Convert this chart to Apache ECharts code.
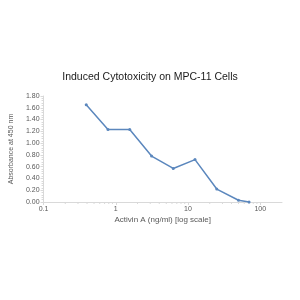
<!DOCTYPE html>
<html><head><meta charset="utf-8">
<script src="https://cdn.jsdelivr.net/npm/echarts@6/dist/echarts.min.js"></script>
<style>html,body{margin:0;padding:0;background:#fff}#c{width:300px;height:300px}</style>
</head><body><div id="c"></div>
<script>
const titleText = 'Induced Cytotoxicity on MPC-11 Cells';
const xName = 'Activin A (ng/ml) [log scale]';
const yName = 'Absorbance at 450 nm';
const concentrations = [0.39, 0.78, 1.56, 3.13, 6.25, 12.5, 25, 50, 70];
const absorbance = [1.65, 1.23, 1.23, 0.78, 0.57, 0.72, 0.22, 0.03, 0.00];
const xMinorTickValues = [0.2,0.3,0.4,0.5,0.6,0.7,0.8,0.9,2,3,4,5,6,7,8,9,20,30,40,50,60,70,80,90];

const font = '"Liberation Sans", Arial, sans-serif';
const chart = echarts.init(document.getElementById('c'), null, {renderer: 'canvas'});
chart.setOption({
  animation: false,
  title: {text: titleText, left: 'center', top: 67, textStyle: {fontFamily: font, fontSize: 10.5, fontWeight: 'normal', color: '#1a1a1a'}},
  grid: {left: 41, right: 18, top: 96, bottom: 98},
  xAxis: {
    type: 'log', logBase: 10, min: 0.1, max: 200,
    name: xName, nameLocation: 'middle', nameGap: 14,
    nameTextStyle: {fontFamily: font, fontSize: 8, color: '#595959'},
    axisLine: {lineStyle: {color: '#d9d9d9', width: 1}},
    axisTick: {show: true, length: 3, lineStyle: {color: '#d9d9d9'}},
    axisLabel: {fontFamily: font, fontSize: 7, color: '#595959', margin: 4,
      showMaxLabel: false, formatter: v => String(v)},
    splitLine: {show: false}
  },
  yAxis: {
    type: 'value', min: 0, max: 1.8, interval: 0.2,
    name: yName, nameLocation: 'middle', nameGap: 27,
    nameTextStyle: {fontFamily: font, fontSize: 7, color: '#595959'},
    axisLine: {show: true, lineStyle: {color: '#d9d9d9', width: 1}},
    axisTick: {show: true, length: 3, lineStyle: {color: '#d9d9d9'}},
    minorTick: {show: true, splitNumber: 5, length: 2, lineStyle: {color: '#d9d9d9'}},
    axisLabel: {fontFamily: font, fontSize: 7, color: '#595959', margin: 4,
      formatter: v => v.toFixed(2)},
    splitLine: {show: false}
  },
  series: [
    {
      type: 'line',
      data: concentrations.map((c, i) => [c, absorbance[i]]),
      symbol: 'circle', symbolSize: 3,
      lineStyle: {color: '#5b87bd', width: 1.5},
      itemStyle: {color: '#5b87bd'}
    },
    {
      type: 'custom', silent: true, clip: false,
      data: xMinorTickValues.map(v => [v, 0]),
      renderItem: (params, api) => {
        const p = api.coord([api.value(0), 0]);
        return {type: 'line', shape: {x1: p[0], y1: p[1], x2: p[0], y2: p[1] + 2},
          style: {stroke: '#d9d9d9', lineWidth: 1}};
      }
    }
  ]
});
</script></body></html>
